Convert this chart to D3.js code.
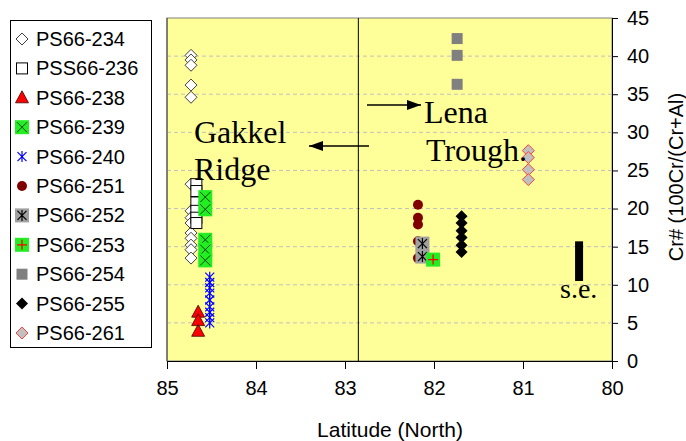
<!DOCTYPE html>
<html>
<head>
<meta charset="utf-8">
<script src="https://cdn.jsdelivr.net/npm/d3@7"></script>
<style>
  body { margin: 0; background: #fff; }
  svg { display: block; }
</style>
</head>
<body>
<svg id="chart"></svg>
<script>
const WIDTH = 686;
const HEIGHT = 441;

// samples: latitude and Cr# values
const ps234Lat = 84.73;
const ps234 = [40.1, 39.5, 38.8, 36.2, 34.6, 23.2, 19.7, 18.8, 18.1, 16.8, 16.1, 15.2, 14.6, 13.5];
const ps236Lat = 84.67;
const ps236 = [23.2, 22.3, 20.8, 19.7, 18.8, 18.1];
const ps238Lat = 84.65;
const ps238 = [6.4, 5.3, 3.9];
const ps239Lat = 84.57;
const ps239 = [21.5, 19.9, 15.9, 14.6, 13.2];
const ps240Lat = 84.52;
const ps240 = [11.0, 10.3, 9.6, 8.9, 8.0, 7.1, 6.4, 5.7, 5.0];
const ps251Lat = 82.18;
const ps251 = [20.5, 18.8, 17.9, 15.7, 13.5];
const ps252Lat = 82.13;
const ps252 = [15.4, 13.7];
const ps253Lat = 82.01;
const ps253 = [13.3];
const ps254Lat = 81.74;
const ps254 = [42.3, 40.1, 36.3];
const ps255Lat = 81.69;
const ps255 = [19.0, 18.1, 17.1, 16.2, 15.2, 14.3];
const ps261Lat = 80.94;
const ps261 = [27.6, 26.7, 25.1, 23.8];

const seLat = 80.37;
const seRange = [10.5, 15.7];
const ridgeLat = 82.85;

const xTicks = [85, 84, 83, 82, 81, 80];
const yTicks = [0, 5, 10, 15, 20, 25, 30, 35, 40, 45];

const legendNames = ["PS66-234", "PSS66-236", "PS66-238", "PS66-239", "PS66-240",
  "PS66-251", "PS66-252", "PS66-253", "PS66-254", "PS66-255", "PS66-261"];

const series = [
  { name: "PS66-234", lat: ps234Lat, values: ps234, marker: "openDiamond" },
  { name: "PSS66-236", lat: ps236Lat, values: ps236, marker: "openSquare" },
  { name: "PS66-238", lat: ps238Lat, values: ps238, marker: "triangle" },
  { name: "PS66-239", lat: ps239Lat, values: ps239, marker: "greenX" },
  { name: "PS66-240", lat: ps240Lat, values: ps240, marker: "star" },
  { name: "PS66-251", lat: ps251Lat, values: ps251, marker: "circle" },
  { name: "PS66-252", lat: ps252Lat, values: ps252, marker: "grayStar" },
  { name: "PS66-253", lat: ps253Lat, values: ps253, marker: "greenPlus" },
  { name: "PS66-254", lat: ps254Lat, values: ps254, marker: "graySquare" },
  { name: "PS66-255", lat: ps255Lat, values: ps255, marker: "blackDiamond" },
  { name: "PS66-261", lat: ps261Lat, values: ps261, marker: "pinkDiamond" },
];

const svg = d3.select("#chart").attr("width", WIDTH).attr("height", HEIGHT);

const PLOT = { left: 167, right: 612, top: 18, bottom: 361 };

const x = d3.scaleLinear().domain([85, 80]).range([PLOT.left, PLOT.right]);
const y = d3.scaleLinear().domain([0, 45]).range([PLOT.bottom, PLOT.top]);

const serif = "'Times New Roman', 'Liberation Serif', serif";
const sans = "Arial, 'Liberation Sans', sans-serif";

// background
svg.append("rect")
  .attr("x", PLOT.left).attr("y", PLOT.top)
  .attr("width", PLOT.right - PLOT.left).attr("height", PLOT.bottom - PLOT.top)
  .attr("fill", "#ffff99")
  .attr("stroke", "#808080");

// grid
svg.append("g")
  .selectAll("line")
  .data(yTicks.filter((t) => t > 0 && t < 45))
  .join("line")
  .attr("x1", PLOT.left).attr("x2", PLOT.right)
  .attr("y1", (d) => y(d)).attr("y2", (d) => y(d))
  .attr("stroke", "#c0c0c0")
  .attr("stroke-dasharray", "4,3");

// axes
const axisX = d3.axisBottom(x).tickValues(xTicks).tickSize(8).tickPadding(12).tickFormat(d3.format("d"));
const axisY = d3.axisRight(y).tickValues(yTicks).tickSize(6).tickPadding(9);

const gx = svg.append("g").attr("transform", `translate(0, ${PLOT.bottom})`).call(axisX);
const gy = svg.append("g").attr("transform", `translate(${PLOT.right}, 0)`).call(axisY);

[gx, gy].forEach((g) => {
  g.selectAll("text").attr("font-family", sans).attr("font-size", 20).attr("fill", "#000");
  g.selectAll("line, path").attr("stroke", "#000");
});

svg.append("line")
  .attr("x1", PLOT.left).attr("x2", PLOT.left)
  .attr("y1", PLOT.top).attr("y2", PLOT.bottom)
  .attr("stroke", "#404040");

// ridge divider
svg.append("line")
  .attr("x1", x(ridgeLat)).attr("x2", x(ridgeLat))
  .attr("y1", PLOT.top).attr("y2", PLOT.bottom)
  .attr("stroke", "#000");

// markers
const drawMarker = (g, type, cx, cy) => {
  const m = g.append("g").attr("transform", `translate(${cx}, ${cy})`);
  const diamond = (r) => `M0,${-r}L${r},0L0,${r}L${-r},0Z`;
  const star = (r, stroke) => {
    m.append("path")
      .attr("d", `M${-r},${-r}L${r},${r}M${-r},${r}L${r},${-r}M0,${-r - 1}L0,${r + 1}`)
      .attr("stroke", stroke).attr("stroke-width", 1.2).attr("fill", "none");
  };
  if (type == "openDiamond") {
    m.append("path").attr("d", diamond(6)).attr("fill", "#fff").attr("stroke", "#404040");
  }
  if (type == "openSquare") {
    m.append("rect").attr("x", -5.5).attr("y", -5.5).attr("width", 11).attr("height", 11)
      .attr("fill", "#fff").attr("stroke", "#000");
  }
  if (type == "triangle") {
    m.append("path").attr("d", "M0,-7L6.5,5L-6.5,5Z").attr("fill", "#ff0000").attr("stroke", "#400000").attr("stroke-width", 0.8);
  }
  if (type == "greenX") {
    m.append("rect").attr("x", -7).attr("y", -7).attr("width", 14).attr("height", 14).attr("fill", "#22ee22");
    m.append("path").attr("d", "M-5,-5L5,5M-5,5L5,-5").attr("stroke", "#0a400a").attr("stroke-width", 1);
  }
  if (type == "star") {
    star(4.5, "#0000ff");
  }
  if (type == "circle") {
    m.append("circle").attr("r", 5).attr("fill", "#800000");
  }
  if (type == "grayStar") {
    m.append("rect").attr("x", -7).attr("y", -7).attr("width", 14).attr("height", 14).attr("fill", "#a0a0a0");
    star(4.5, "#000");
  }
  if (type == "greenPlus") {
    m.append("rect").attr("x", -7).attr("y", -7).attr("width", 14).attr("height", 14).attr("fill", "#22ee22");
    m.append("path").attr("d", "M-5,0L5,0M0,-5L0,5").attr("stroke", "#ff0000").attr("stroke-width", 1.3);
  }
  if (type == "graySquare") {
    m.append("rect").attr("x", -5.5).attr("y", -5.5).attr("width", 11).attr("height", 11).attr("fill", "#808080");
  }
  if (type == "blackDiamond") {
    m.append("path").attr("d", diamond(6)).attr("fill", "#000");
  }
  if (type == "pinkDiamond") {
    m.append("path").attr("d", diamond(6)).attr("fill", "#c0c0c0").attr("stroke", "#ff4040").attr("stroke-width", 1);
  }
};

const marks = svg.append("g");
series.forEach((s) => {
  s.values.forEach((v) => drawMarker(marks, s.marker, x(s.lat), y(v)));
});

// s.e. bar
svg.append("rect")
  .attr("x", x(seLat) - 4).attr("y", y(seRange[1]))
  .attr("width", 8).attr("height", y(seRange[0]) - y(seRange[1]))
  .attr("fill", "#000");

svg.append("text").attr("x", 560).attr("y", 298).attr("font-family", serif).attr("font-size", 28).text("s.e.");

// region labels
svg.append("text").attr("x", 194).attr("y", 143).attr("font-family", serif).attr("font-size", 32).text("Gakkel");
svg.append("text").attr("x", 194).attr("y", 180).attr("font-family", serif).attr("font-size", 32).text("Ridge");
svg.append("text").attr("x", 424).attr("y", 123).attr("font-family", serif).attr("font-size", 32).text("Lena");
svg.append("text").attr("x", 426).attr("y", 161).attr("font-family", serif).attr("font-size", 32).text("Trough.");

// arrows
const arrow = (x1, x2, yy) => {
  svg.append("line").attr("x1", x1).attr("x2", x2).attr("y1", yy).attr("y2", yy).attr("stroke", "#000").attr("stroke-width", 1.5);
  const dir = x2 > x1 ? 1 : -1;
  svg.append("path")
    .attr("d", `M${x2},${yy}L${x2 - dir * 14},${yy - 5}L${x2 - dir * 14},${yy + 5}Z`)
    .attr("fill", "#000");
};
arrow(367, 421, 105);
arrow(369, 309, 146);

// axis titles
svg.append("text").attr("x", 390).attr("y", 437).attr("text-anchor", "middle")
  .attr("font-family", sans).attr("font-size", 21).text("Latitude (North)");
svg.append("text").attr("transform", "translate(683, 177) rotate(-90)").attr("text-anchor", "middle")
  .attr("font-family", sans).attr("font-size", 20).text("Cr# (100Cr/(Cr+Al)");

// legend
const legend = svg.append("g");
legend.append("rect").attr("x", 10.5).attr("y", 20.5).attr("width", 141).attr("height", 327)
  .attr("fill", "#fff").attr("stroke", "#000");
legendNames.forEach((name, i) => {
  const ly = 39 + i * 29.4;
  drawMarker(legend, series[i].marker, 22, ly);
  legend.append("text").attr("x", 36).attr("y", ly + 7)
    .attr("font-family", sans).attr("font-size", 20).text(name);
});
</script>
</body>
</html>
